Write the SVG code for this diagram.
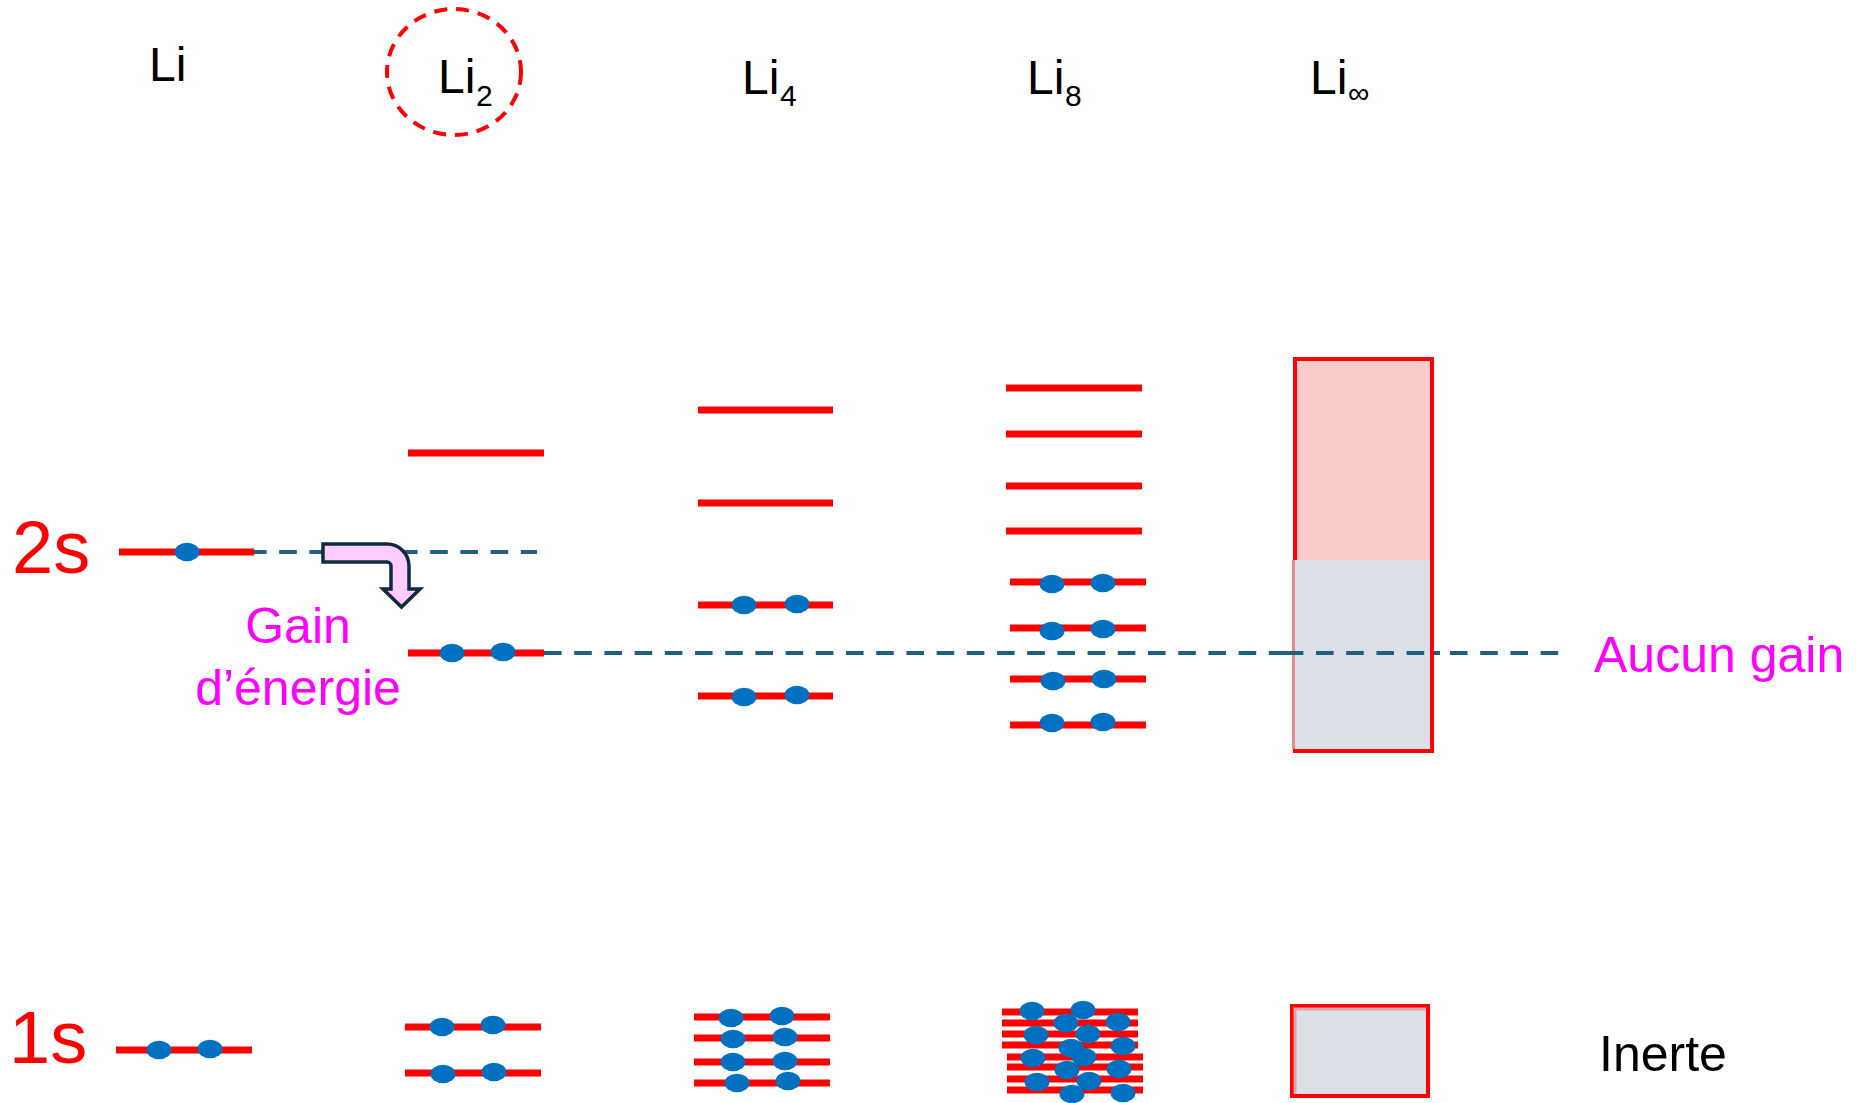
<svg xmlns="http://www.w3.org/2000/svg" width="1856" height="1103" viewBox="0 0 1856 1103">
  <style>
    .lvl { stroke: #FF0000; stroke-width: 7; fill: none; }
    .e { fill: #0070C0; }
    .ref { stroke: #1F5F80; stroke-width: 4; stroke-dasharray: 17.6 12.6; fill: none; }
    .t { font-family: "Liberation Sans", Arial, sans-serif; }
    .name { font-size: 48px; fill: #000000; }
    .inert { font-size: 50px; fill: #000000; }
    .sub { font-size: 30px; fill: #000000; }
    .orb { font-size: 74px; fill: #FF0000; }
    .note { font-size: 50px; fill: #FF00FF; }
  </style>
  <defs>
    <ellipse id="el" rx="12.5" ry="9.2" class="e"/>
  </defs>
  <rect width="1856" height="1103" fill="#FFFFFF"/>

  <!-- orbital labels -->
  <g id="label-2s"><text class="t orb" x="12" y="573">2s</text></g>
  <g id="label-1s"><text class="t orb" x="9" y="1063">1s</text></g>

  <!-- reference energy levels and energy-gain arrow -->
  <g id="connectors">
    <line class="ref" x1="249" y1="552" x2="537" y2="552"/>
    <line class="ref" x1="544" y1="653" x2="1559" y2="653"/>
    <path d="M 323 544 L 387 544 A 22 22 0 0 1 409 566 L 409 589 L 420 589 L 401.5 607 L 383 589 L 391 589 L 391 566 A 4 4 0 0 0 387 562 L 323 562 Z"
          fill="#FFCCFF" stroke="#0F2B3D" stroke-width="3.5" stroke-linejoin="miter"/>
  </g>

  <!-- single atom -->
  <g id="li">
    <text class="t name" x="149" y="81">Li</text>
    <line class="lvl" x1="119" y1="552" x2="254" y2="552"/>
    <use href="#el" x="187" y="552"/>
    <line class="lvl" x1="116" y1="1050" x2="252" y2="1050"/>
    <use href="#el" x="159" y="1050"/>
    <use href="#el" x="210" y="1049"/>
  </g>

  <!-- dimer -->
  <g id="li2">
    <ellipse cx="454" cy="72" rx="67" ry="63" fill="none" stroke="#FF0000" stroke-width="4" stroke-dasharray="13 9"/>
    <text class="t name" x="438" y="93">Li</text>
    <text class="t sub" x="476" y="106">2</text>
    <line class="lvl" x1="408" y1="453" x2="544" y2="453"/>
    <line class="lvl" x1="408" y1="653" x2="544" y2="653"/>
    <use href="#el" x="452" y="653"/>
    <use href="#el" x="503" y="652"/>
    <line class="lvl" x1="405" y1="1027" x2="541" y2="1027"/>
    <use href="#el" x="442" y="1027"/>
    <use href="#el" x="493" y="1025"/>
    <line class="lvl" x1="405" y1="1073" x2="541" y2="1073"/>
    <use href="#el" x="443" y="1074"/>
    <use href="#el" x="494" y="1072"/>
  </g>

  <!-- tetramer -->
  <g id="li4">
    <text class="t name" x="742" y="94">Li</text>
    <text class="t sub" x="780" y="106">4</text>
    <line class="lvl" x1="698" y1="410" x2="833" y2="410"/>
    <line class="lvl" x1="698" y1="503" x2="833" y2="503"/>
    <line class="lvl" x1="698" y1="605" x2="833" y2="605"/>
    <use href="#el" x="744" y="605"/>
    <use href="#el" x="797" y="604"/>
    <line class="lvl" x1="698" y1="696" x2="833" y2="696"/>
    <use href="#el" x="744" y="697"/>
    <use href="#el" x="797" y="695"/>
    <line class="lvl" x1="694" y1="1017" x2="830" y2="1017"/>
    <line class="lvl" x1="694" y1="1038" x2="830" y2="1038"/>
    <line class="lvl" x1="694" y1="1062" x2="830" y2="1062"/>
    <line class="lvl" x1="694" y1="1083" x2="830" y2="1083"/>
    <use href="#el" x="731" y="1018"/>
    <use href="#el" x="782" y="1016"/>
    <use href="#el" x="733" y="1039"/>
    <use href="#el" x="785" y="1037"/>
    <use href="#el" x="733" y="1062"/>
    <use href="#el" x="785" y="1061"/>
    <use href="#el" x="737" y="1083"/>
    <use href="#el" x="788" y="1081"/>
  </g>

  <!-- octamer -->
  <g id="li8">
    <text class="t name" x="1027" y="94">Li</text>
    <text class="t sub" x="1065" y="106">8</text>
    <line class="lvl" x1="1006" y1="388" x2="1142" y2="388"/>
    <line class="lvl" x1="1006" y1="434" x2="1142" y2="434"/>
    <line class="lvl" x1="1006" y1="486" x2="1142" y2="486"/>
    <line class="lvl" x1="1006" y1="531" x2="1142" y2="531"/>
    <line class="lvl" x1="1010" y1="582" x2="1146" y2="582"/>
    <line class="lvl" x1="1010" y1="628" x2="1146" y2="628"/>
    <line class="lvl" x1="1010" y1="679" x2="1146" y2="679"/>
    <line class="lvl" x1="1010" y1="725" x2="1146" y2="725"/>
    <use href="#el" x="1052" y="584"/>
    <use href="#el" x="1103" y="583"/>
    <use href="#el" x="1052" y="631"/>
    <use href="#el" x="1103" y="629"/>
    <use href="#el" x="1053" y="681"/>
    <use href="#el" x="1104" y="679"/>
    <use href="#el" x="1052" y="723"/>
    <use href="#el" x="1103" y="722"/>
    <line class="lvl" x1="1002" y1="1012" x2="1138" y2="1012"/>
    <line class="lvl" x1="1002" y1="1023" x2="1138" y2="1023"/>
    <line class="lvl" x1="1002" y1="1034" x2="1138" y2="1034"/>
    <line class="lvl" x1="1002" y1="1045" x2="1138" y2="1045"/>
    <line class="lvl" x1="1007" y1="1057" x2="1143" y2="1057"/>
    <line class="lvl" x1="1007" y1="1067" x2="1143" y2="1067"/>
    <line class="lvl" x1="1007" y1="1079" x2="1143" y2="1079"/>
    <line class="lvl" x1="1007" y1="1090" x2="1143" y2="1090"/>
    <use href="#el" x="1032" y="1011"/>
    <use href="#el" x="1083" y="1010"/>
    <use href="#el" x="1066" y="1023"/>
    <use href="#el" x="1118" y="1022"/>
    <use href="#el" x="1036" y="1035"/>
    <use href="#el" x="1088" y="1034"/>
    <use href="#el" x="1071" y="1048"/>
    <use href="#el" x="1123" y="1046"/>
    <use href="#el" x="1033" y="1058"/>
    <use href="#el" x="1084" y="1057"/>
    <use href="#el" x="1067" y="1070"/>
    <use href="#el" x="1119" y="1069"/>
    <use href="#el" x="1037" y="1082"/>
    <use href="#el" x="1089" y="1081"/>
    <use href="#el" x="1072" y="1094"/>
    <use href="#el" x="1123" y="1093"/>
  </g>

  <!-- bulk metal: bands -->
  <g id="li-inf">
    <text class="t name" x="1310" y="94">Li</text>
    <text class="t sub" x="1348" y="103">∞</text>
    <rect x="1295" y="359" width="137" height="392" fill="#FCCCCC" stroke="#FF0000" stroke-width="4"/>
    <rect x="1292" y="560" width="138" height="189" fill="#DCDFE6"/>
    <line x1="1293.5" y1="560" x2="1293.5" y2="749" stroke="#E08A8A" stroke-width="3"/>
    <rect x="1292" y="1006" width="136" height="90" fill="#DCDFE6" stroke="#FF0000" stroke-width="4"/>
    <path d="M 1295 1094 L 1295 1009 L 1426 1009" fill="none" stroke="#E6A3AB" stroke-width="3"/>
  </g>

  <!-- dashed reference redrawn across the band -->
  <g id="band-ref">
    <line class="ref" x1="1285.8" y1="653" x2="1440" y2="653"/>
  </g>

  <!-- annotations -->
  <g id="gain-label">
    <text class="t note" x="298" y="643" text-anchor="middle">Gain</text>
    <text class="t note" x="298" y="705" text-anchor="middle">d’énergie</text>
  </g>
  <g id="nogain-label"><text class="t note" x="1594" y="672">Aucun gain</text></g>
  <g id="inert-label"><text class="t inert" x="1599" y="1071">Inerte</text></g>
</svg>
